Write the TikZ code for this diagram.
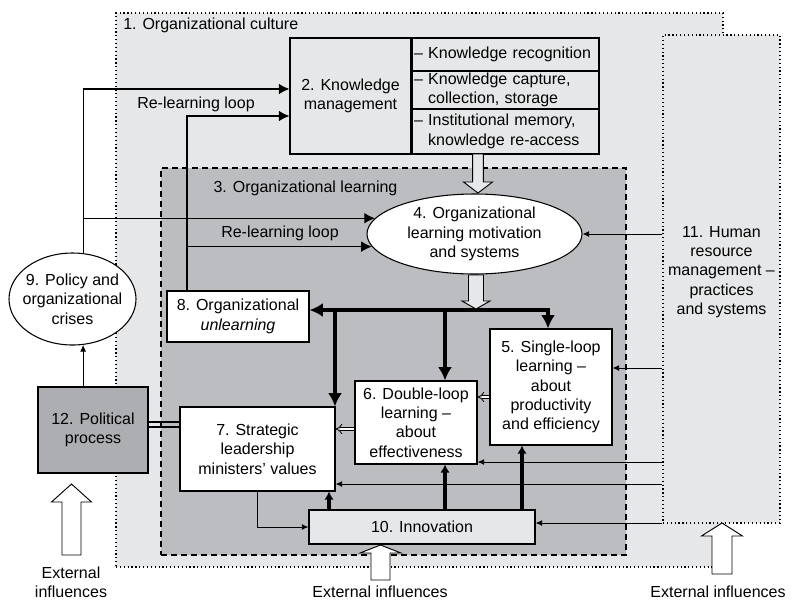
\documentclass[tikz,border=0pt]{standalone}
\usepackage{fontspec}
\setmainfont{Liberation Sans}
\usetikzlibrary{arrows.meta,shapes.geometric,calc}
\definecolor{culturegray}{HTML}{E6E7E8}
\definecolor{learngray}{HTML}{BCBDC0}
\definecolor{politicsgray}{HTML}{ADAEB1}
% block arrow: centre x, tail y, head base y, tip y, shaft half width, head half width, fill
\newcommand{\blockarrow}[7]{%
  \filldraw[fill=#7, draw=black, line width=0.7pt, line join=miter]
    (#1-#5,#2) -- (#1-#5,#3) -- (#1-#6,#3) -- (#1,#4) -- (#1+#6,#3)
    -- (#1+#5,#3) -- (#1+#5,#2) -- cycle;}

\begin{document}
\begin{tikzpicture}[x=0.75pt, y=-0.75pt,
  font=\fontsize{12pt}{14.5pt}\selectfont,
  box/.style={draw=black, line width=0.8pt, fill=white, inner sep=0pt, align=center},
  listrow/.style={draw=black, line width=0.8pt, fill=culturegray, inner sep=0pt,
    align=left, text width=183*0.75pt, minimum width=187*0.75pt},
  oval/.style={draw=black, line width=0.8pt, fill=white, ellipse, inner sep=0pt},
  label/.style={inner sep=0pt, align=center},
  thinbig/.style={draw, line width=0.8pt, -{Latex[length=8pt,width=8pt]}},
  thinsmall/.style={draw, line width=0.7pt, -{Latex[length=5pt,width=4.5pt]}},
  plain/.style={draw, line width=0.8pt},
  thickbar/.style={draw, line width=3.6pt},
  midarr/.style={draw, line width=2.4pt, -{Latex[length=6pt,width=7pt]}},
  implied/.style={draw, double, double distance=2pt, line width=0.6pt, -{Implies}},
]
\useasboundingbox (0,0) rectangle (791,600);

% frames: culture, human resources, learning
\node[draw, dotted, line width=0.9pt, fill=culturegray, inner sep=0pt,
      minimum width=607*0.75pt, minimum height=554*0.75pt] (n1) at (419.5,290) {};
\node[draw, dotted, line width=0.9pt, fill=culturegray, inner sep=0pt,
      minimum width=117*0.75pt, minimum height=488*0.75pt] (n11) at (721.5,279) {};
\node[draw, dash pattern=on 4.5pt off 3pt, line width=0.8pt, fill=learngray, inner sep=0pt,
      minimum width=465*0.75pt, minimum height=387*0.75pt] (n3) at (393.5,361.5) {};

\node[label, anchor=west] (l1) at (123,25) {1. Organizational culture};
\node[label] (l3) at (305.5,188) {3. Organizational learning};
\node[label] (l11) at (721.5,272) {11. Human\\resource\\management –\\practices\\and systems};

% knowledge management and its list
\node[box, fill=culturegray, minimum width=121*0.75pt, minimum height=116*0.75pt]
  (n2) at (350.5,96) {2. Knowledge\\management};
\node[listrow, minimum height=33*0.75pt] (kr) at (505.5,54.5) {– Knowledge recognition};
\node[listrow, minimum height=38*0.75pt] (kc) at (505.5,90)
  {– Knowledge capture,\\\phantom{– }collection, storage};
\node[listrow, minimum height=45*0.75pt] (km) at (505.5,131.5)
  {– Institutional memory,\\\phantom{– }knowledge re-access};

% ellipses
\node[oval, minimum width=215*0.75pt, minimum height=80*0.75pt] (n4) at (474.5,234) {};
\node[label] (t4) at (n4) {4. Organizational\\learning motivation\\and systems};
\node[oval, minimum width=127*0.75pt, minimum height=92*0.75pt] (n9) at (72.5,299) {};
\node[label] (t9) at (n9) {9. Policy and\\organizational\\crises};

% boxes
\node[box, minimum width=122*0.75pt, minimum height=116*0.75pt] (n5) at (551,387)
  {5. Single-loop\\learning –\\about\\productivity\\and efficiency};
\node[box, minimum width=122*0.75pt, minimum height=83*0.75pt] (n6) at (416,422.5)
  {6. Double-loop\\learning –\\about\\effectiveness};
\node[box, minimum width=155*0.75pt, minimum height=84*0.75pt] (n7) at (257.5,449)
  {7. Strategic\\leadership\\ministers’ values};
\node[box, minimum width=142*0.75pt, minimum height=51*0.75pt] (n8) at (238,316.5)
  {8. Organizational\\\textit{unlearning}};
\node[box, fill=culturegray, minimum width=226*0.75pt, minimum height=34*0.75pt] (n10)
  at (422,527) {10. Innovation};
\node[box, fill=politicsgray, minimum width=110*0.75pt, minimum height=86*0.75pt] (n12)
  at (93,430) {12. Political\\process};

% reference levels and columns
\coordinate (yKM1) at (0,89);
\coordinate (yKM2) at (0,116);
\coordinate (bar) at (548,310);
\coordinate (y368) at (0,368);
\coordinate (y397) at (0,397);
\coordinate (y422) at (0,422);
\coordinate (y427) at (0,427);
\coordinate (y429) at (0,429);
\coordinate (y462) at (0,462);
\coordinate (y484) at (0,484);
\coordinate (y523) at (0,523);
\coordinate (xRL) at (187,0);
\coordinate (xd7) at (335,0);
\coordinate (xd6) at (445,0);
\coordinate (xu7) at (329,0);
\coordinate (xu5) at (522,0);

% policy and crises feeding knowledge management and learning
\draw[thinbig] (n9.77) |- (n2.west |- yKM1);
\draw[thinbig] (n9.77 |- n4.171) -- (n4.171);

% re-learning loops from unlearning
\draw[thinbig] (n8.north -| xRL) |- (n2.west |- yKM2);
\draw[thinbig] (xRL |- n4.187) -- (n4.187);
\node[label] (rl1) at (196,104) {Re-learning loop};
\node[label] (rl2) at (280,233) {Re-learning loop};

% human resource management inputs
\draw[thinsmall] (n11.west |- n4.east) -- (n4.east);
\draw[thinsmall] (n11.west |- y368) -- (n5.east |- y368);
\draw[thinsmall] (n11.west |- y462) -- (n6.east |- y462);
\draw[thinsmall] (n11.west |- y484) -- (n7.east |- y484);
\draw[thinsmall] (n11.west |- y523) -- (n10.east |- y523);

% leadership to innovation, political process to crises
\draw[thinsmall] (n7.south) |- (n10.west);
\draw[thinsmall] (n12.north -| n9.283) -- (n9.283);

% political process tied to leadership
\draw[plain] (n12.east |- y422) -- (n7.west |- y422);
\draw[plain] (n12.east |- y427) -- (n7.west |- y427);

% learning distribution bar
\draw[thickbar, {Latex[length=10pt,width=10.5pt]}-{Latex[length=10pt,width=10.5pt]}]
  (n8.east |- bar) -- (bar) -- (bar |- n5.north);
\draw[thickbar, -{Latex[length=10pt,width=10.5pt]}] (xd7 |- bar) -- (xd7 |- n7.north);
\draw[thickbar, -{Latex[length=10pt,width=10.5pt]}] (xd6 |- bar) -- (xd6 |- n6.north);

% innovation feeding the learning boxes
\draw[midarr] (xu7 |- n10.north) -- (xu7 |- n7.south);
\draw[midarr] (xd6 |- n10.north) -- (xd6 |- n6.south);
\draw[midarr] (xu5 |- n10.north) -- (xu5 |- n5.south);

% single-loop to double-loop to leadership
\draw[implied] (n5.west |- y397) -- (n6.east |- y397);
\draw[implied] (n6.west |- y429) -- (n7.east |- y429);

% block arrows
\blockarrow{478}{154}{182}{193}{5.3}{14.5}{culturegray}
\blockarrow{476}{275}{301}{309}{7.5}{14}{culturegray}
\blockarrow{71.5}{555}{502}{484}{9.5}{20}{white}
\blockarrow{380.5}{580}{553}{545}{9.5}{20.5}{white}
\blockarrow{722}{574}{536}{523}{10}{20.5}{white}

\node[label] (ex1) at (71,582) {External\\influences};
\node[label] (ex2) at (380,592) {External influences};
\node[label] (ex3) at (718,592) {External influences};
\end{tikzpicture}
\end{document}
